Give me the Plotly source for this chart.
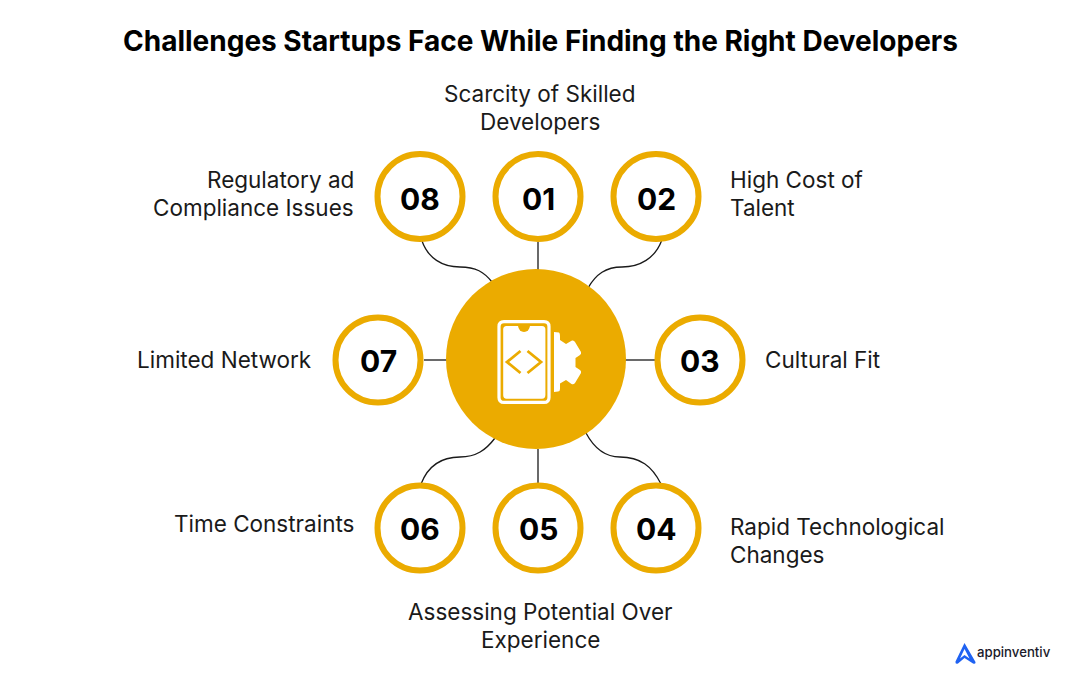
"""Startup developer hiring challenges, hub and spoke diagram"""
import plotly.graph_objects as go

title = "Challenges Startups Face While Finding the Right Developers"
numbers = ["01", "02", "03", "04", "05", "06", "07", "08"]
labels = [
    "Scarcity of Skilled<br>Developers",
    "High Cost of<br>Talent",
    "Cultural Fit",
    "Rapid Technological<br>Changes",
    "Assessing Potential Over<br>Experience",
    "Time Constraints",
    "Limited Network",
    "Regulatory ad<br>Compliance Issues",
]
brand = "appinventiv"

GOLD = "#EBAB00"
FONT = "Inter"
LINE_PITCH = 28

# diagram layout, in page pixels
node_x = [538, 656, 700, 656, 538, 420, 378, 420]
node_y = [196.5, 196.5, 360, 528, 528, 528, 360, 196.5]
label_x = [540, 728, 763, 728, 540, 356, 314, 356]
label_y = [107, 193, 359, 540, 625, 523, 359, 193]
label_anchor = ["center", "left", "left", "left", "center", "right", "right", "right"]
hub_x, hub_y, hub_r = 536, 359, 90

connectors = [
    "M 538 242 L 538 270",
    "M 661.5 241 C 655 258 640 267 622 267 C 606 267 596 274 588 288",
    "M 625 360 L 655 360",
    "M 661 484 C 652 466 640 457 620 457 C 604 457 594 448 586 433",
    "M 538 449 L 538 483",
    "M 421 484 C 428 466 442 457 460 457 C 476 457 486 450 495 438",
    "M 424 360 L 447 360",
    "M 422 241 C 428 258 442 267 460 267 C 476 267 484 272 492 282",
]

fig = go.Figure()

for path in connectors:
    fig.add_shape(type="path", path=path, line={"color": "#1a1a1a", "width": 1.3}, layer="below")

fig.add_shape(
    type="circle",
    x0=hub_x - hub_r,
    x1=hub_x + hub_r,
    y0=hub_y - hub_r,
    y1=hub_y + hub_r,
    fillcolor=GOLD,
    line={"width": 0},
)

# phone and gear icon
fig.add_shape(
    type="path",
    path="M 506.5 326 L 542 326 Q 545.4 326 545.4 329.5 "
    "L 545.4 395 Q 545.4 398.7 542 398.7 L 506.5 398.7 Q 503.2 398.7 503.2 395 "
    "L 503.2 329.5 Q 503.2 326 506.5 326 Z",
    fillcolor="white",
    line={"width": 0},
)
fig.add_shape(type="circle", x0=518.2, x1=529.8, y0=320.4, y1=332, fillcolor=GOLD, line={"width": 0})
fig.add_shape(
    type="path",
    path="M 504 321.6 L 544 321.6 Q 549 321.6 549 326.6 L 549 397.4 Q 549 402.4 544 402.4 "
    "L 504 402.4 Q 499 402.4 499 397.4 L 499 326.6 Q 499 321.6 504 321.6 Z",
    line={"color": "white", "width": 3.2},
)
for chevron in [
    "M 520.5 351 L 507 362 L 520.5 373",
    "M 527.5 351 L 541 362 L 527.5 373",
]:
    fig.add_shape(type="path", path=chevron, line={"color": GOLD, "width": 2.8})
fig.add_shape(
    type="path",
    path="M 554 332 L 559 332.5 Q 560 333 560 336 L 560 340 L 566 344 L 572 340.5 Q 574 340 575 342 "
    "L 581 352 Q 581.5 354 580 355 L 575.5 358 L 575.5 367 L 580 370 Q 581.5 371 581 373 "
    "L 575 383 Q 573.5 385 571.5 384 L 566 380 L 560 383.5 L 560 389 Q 560 391.5 558 391.5 "
    "L 554 392 L 554 374 A 12 12 0 0 0 554 350 Z",
    fillcolor="white",
    line={"width": 0},
)

# logo mark
fig.add_shape(
    type="path",
    path="M 964.5 643 L 975.5 662 Q 976 664.5 973 663.5 L 964.5 658 L 958 663.5 Q 955 664.5 955.5 661.5 Z "
    "M 964.5 649 L 960 658.5 L 964.5 655 L 969.5 658.5 Z",
    fillcolor="#1F62F2",
    line={"width": 0},
)

fig.add_trace(
    go.Scatter(
        x=node_x,
        y=node_y,
        mode="markers",
        marker={"size": 85, "color": "white", "line": {"color": GOLD, "width": 6}},
        hoverinfo="skip",
        showlegend=False,
    )
)

for text, x, y in zip(numbers, node_x, node_y):
    fig.add_annotation(
        x=x,
        y=y + (2 if y < 300 else 1),
        text=text,
        showarrow=False,
        xanchor="center",
        yanchor="middle",
        font={"family": FONT, "size": 30, "color": "#000000", "weight": 700},
    )

# one annotation per line, plotly's own line spacing is a bit too loose here
for text, x, y, anchor in zip(labels, label_x, label_y, label_anchor):
    lines = text.split("<br>")
    for i, line in enumerate(lines):
        fig.add_annotation(
            x=x,
            y=y + (i - (len(lines) - 1) / 2) * LINE_PITCH,
            text=line,
            showarrow=False,
            xanchor=anchor,
            yanchor="middle",
            font={"family": FONT, "size": 22.5, "color": "#1a1a1a"},
        )

fig.add_annotation(
    x=540,
    y=41,
    text=f"<b>{title}</b>",
    showarrow=False,
    xanchor="center",
    yanchor="middle",
    font={"family": FONT, "size": 28, "color": "#000000"},
)
fig.add_annotation(
    x=975,
    y=652,
    text=brand,
    showarrow=False,
    xanchor="left",
    yanchor="middle",
    font={"family": FONT, "size": 13.2, "color": "#1a1a2a", "weight": 500},
)

fig.update_xaxes(range=[0, 1080], visible=False, fixedrange=True)
fig.update_yaxes(range=[682, 0], visible=False, fixedrange=True)
fig.update_layout(
    width=1080,
    height=682,
    margin={"l": 0, "r": 0, "t": 0, "b": 0},
    paper_bgcolor="white",
    plot_bgcolor="white",
)

fig.write_html(
    "out.html",
    config={"displayModeBar": False},
    post_script="document.body.style.margin = '0';",
)
